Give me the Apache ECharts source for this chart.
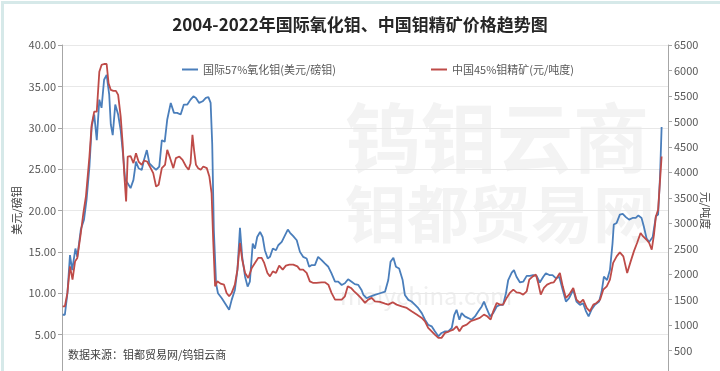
<!DOCTYPE html>
<html>
<head>
<meta charset="utf-8">
<script src="https://cdn.jsdelivr.net/npm/echarts@6/dist/echarts.min.js"></script>
<style>
html,body{margin:0;padding:0;background:#fff;}
#c{width:720px;height:371px;}
</style>
</head>
<body>
<div id="c"></div>
<script>
const titleText = '2004-2022年国际氧化钼、中国钼精矿价格趋势图';
const seriesNames = ['国际57%氧化钼(美元/磅钼)', '中国45%钼精矿(元/吨度)'];
const sourceText = '数据来源：钼都贸易网/钨钼云商';
const leftAxisName = '美元/磅钼';
const rightAxisName = '元/吨度';

// International 57% MoO3, USD/lb (time in decimal years)
const oxideYears = [
2004.02,2004.09,2004.17,2004.25,2004.32,2004.42,2004.48,2004.59,2004.69,2004.77,2004.86,2004.93,
2005.01,2005.09,2005.17,2005.24,2005.32,2005.40,2005.48,2005.53,2005.59,2005.67,2005.76,2005.84,2005.92,2005.98,
2006.06,2006.15,2006.24,2006.32,2006.40,2006.50,2006.57,2006.66,2006.74,2006.84,2006.95,
2007.05,2007.13,2007.22,2007.30,2007.41,2007.51,2007.61,2007.72,2007.82,2007.93,
2008.03,2008.12,2008.20,2008.30,2008.41,2008.51,2008.59,2008.66,2008.71,2008.76,2008.83,2008.89,
2009.01,2009.11,2009.24,2009.32,2009.42,2009.50,2009.58,2009.65,2009.74,2009.82,2009.89,2009.98,
2010.05,2010.12,2010.21,2010.29,2010.36,2010.45,2010.52,2010.61,2010.71,2010.78,2010.89,2010.99,
2011.08,2011.15,2011.25,2011.36,2011.46,2011.56,2011.67,2011.75,2011.83,2011.93,
2012.03,2012.14,2012.24,2012.35,2012.45,2012.56,2012.66,2012.77,2012.87,2012.97,
2013.08,2013.18,2013.29,2013.39,2013.45,2013.55,2013.66,2013.81,2013.97,
2014.13,2014.23,2014.30,2014.39,2014.47,2014.57,2014.68,2014.75,2014.86,2014.96,
2015.07,2015.17,2015.28,2015.38,2015.48,2015.59,2015.69,2015.80,2015.90,
2016.01,2016.11,2016.22,2016.30,2016.37,2016.46,2016.53,2016.63,2016.74,2016.84,2016.95,
2017.05,2017.16,2017.23,2017.31,2017.42,2017.52,2017.63,2017.73,2017.83,2017.92,2017.99,
2018.10,2018.17,2018.25,2018.36,2018.46,2018.57,2018.67,2018.77,2018.88,2018.98,
2019.09,2019.17,2019.28,2019.38,2019.49,2019.59,2019.70,2019.80,2019.90,
2020.03,2020.13,2020.24,2020.34,2020.43,2020.51,2020.60,2020.71,2020.84,2020.92,2020.99,
2021.09,2021.18,2021.26,2021.30,2021.39,2021.49,2021.58,2021.68,2021.78,2021.89,2021.99,
2022.07,2022.17,2022.24,2022.33,2022.41,2022.52,2022.62,2022.69,2022.75,2022.80
];
const oxideValues = [
7.4,7.4,10.0,14.6,12.8,15.4,14.4,17.7,18.9,21.3,25.3,30.1,
31.6,28.5,33.4,32.4,35.8,36.4,34.0,30.4,29.1,32.8,31.6,29.7,26.5,23.7,
23.3,22.7,23.7,25.9,25.1,24.9,26.1,27.3,25.7,25.3,24.9,
25.3,28.5,28.3,31.0,33.0,31.8,31.8,31.6,32.8,32.8,
33.4,33.8,33.6,33.0,33.2,33.6,33.7,33.0,28.0,17.7,11.2,10.0,
9.4,8.8,8.0,9.2,10.4,12.8,17.9,14.4,12.0,10.8,11.4,16.0,
15.4,16.8,17.4,16.8,15.2,14.2,14.4,15.4,15.2,15.8,16.2,17.0,
17.7,17.3,16.9,16.4,15.0,14.4,14.2,13.2,13.4,13.4,
14.4,14.0,13.6,13.2,12.4,11.4,11.4,11.0,11.2,11.7,
11.4,11.1,11.0,10.4,9.8,9.4,9.6,9.8,10.0,
10.2,11.6,13.8,14.3,13.2,13.0,11.6,9.8,9.2,9.0,
8.6,8.2,7.6,6.8,6.2,6.0,5.4,4.8,5.2,
5.4,5.4,5.8,7.4,8.0,6.8,7.6,7.2,7.0,6.8,7.2,
7.8,8.4,9.0,8.2,7.2,7.6,8.4,8.6,8.6,10.0,11.6,
12.5,12.8,12.0,11.3,11.4,12.1,12.1,12.2,12.1,11.3,
12.0,12.4,12.2,12.2,11.8,12.0,10.4,9.0,9.4,
10.4,9.0,8.6,8.8,7.8,7.2,8.0,8.6,9.0,10.2,12.0,
11.6,12.8,16.0,18.3,18.5,19.5,19.6,19.2,18.9,19.1,19.1,
19.4,19.1,18.1,16.6,16.2,16.8,19.3,19.5,24.1,30.1
];

// China 45% Mo concentrate, CNY per tonne-degree
const concYears = [
2004.02,2004.09,2004.17,2004.25,2004.33,2004.41,2004.48,2004.59,2004.67,2004.75,2004.86,2004.93,
2005.01,2005.09,2005.17,2005.24,2005.32,2005.40,2005.46,2005.53,2005.61,2005.69,2005.76,2005.84,2005.90,2005.95,
2006.01,2006.06,2006.15,2006.24,2006.32,2006.40,2006.50,2006.57,2006.67,2006.78,2006.86,2006.95,
2007.03,2007.13,2007.23,2007.30,2007.39,2007.49,2007.57,2007.68,2007.78,2007.89,2007.97,
2008.03,2008.09,2008.14,2008.20,2008.27,2008.35,2008.43,2008.54,2008.62,2008.69,2008.74,2008.80,2008.87,2008.97,
2009.08,2009.16,2009.24,2009.32,2009.42,2009.50,2009.58,2009.65,2009.74,2009.84,2009.95,
2010.05,2010.15,2010.26,2010.34,2010.44,2010.52,2010.61,2010.71,2010.81,2010.92,
2011.02,2011.13,2011.25,2011.38,2011.46,2011.56,2011.67,2011.77,2011.88,2011.98,
2012.14,2012.24,2012.35,2012.45,2012.56,2012.66,2012.77,2012.87,2012.96,
2013.06,2013.16,2013.27,2013.37,2013.50,2013.60,2013.71,2013.81,2013.97,
2014.13,2014.23,2014.37,2014.49,2014.65,2014.81,2014.96,
2015.12,2015.28,2015.38,2015.48,2015.59,2015.69,2015.80,2015.90,
2016.01,2016.14,2016.27,2016.37,2016.46,2016.56,2016.69,2016.81,2016.95,
2017.10,2017.23,2017.33,2017.44,2017.52,2017.63,2017.73,2017.83,2017.94,
2018.04,2018.15,2018.25,2018.36,2018.46,2018.57,2018.65,2018.76,2018.86,2018.93,
2019.01,2019.11,2019.21,2019.32,2019.42,2019.51,2019.61,2019.70,2019.80,2019.90,
2020.03,2020.13,2020.24,2020.34,2020.45,2020.55,2020.66,2020.76,2020.87,2020.97,
2021.08,2021.18,2021.28,2021.39,2021.49,2021.60,2021.72,2021.83,2021.93,
2022.03,2022.14,2022.22,2022.33,2022.41,2022.49,2022.56,2022.62,2022.69,2022.75,2022.80
];
const concValues = [
1369,1369,1631,2153,1892,2251,2318,2808,3200,3525,4310,4931,
5192,5192,5976,6108,6127,6127,5749,5618,5600,5600,5520,5094,4573,3984,
3427,4310,4320,4180,4376,4212,4147,4231,4212,4082,3984,3722,
3755,4082,4147,4441,4278,4082,4278,4310,4245,4114,4049,
4180,4735,4441,4147,4082,4049,4114,4082,3918,3592,2676,1761,1859,1814,
1794,1631,1565,1631,1794,2088,2612,2284,2024,1925,2122,
2220,2318,2318,2220,2024,1957,2055,2024,2167,2088,
2167,2186,2186,2153,2088,2088,2024,1859,1827,1827,
1839,1839,1794,1631,1500,1500,1500,1565,1761,
1729,1663,1598,1533,1435,1500,1533,1467,1455,
1422,1402,1447,1402,1369,1337,1271,
1206,1141,1075,945,878,814,749,749,
847,878,912,976,878,976,1010,1075,1108,
1141,1206,1173,1108,1271,1435,1402,1402,1533,
1631,1696,1643,1631,1598,1663,1892,1957,1990,1827,
1598,1729,1794,1827,1839,1925,2024,1761,1533,1598,
1729,1500,1435,1500,1337,1271,1402,1435,1500,1696,
1761,1892,2220,2349,2427,2349,2024,2251,2447,
2612,2808,2741,2676,2612,2480,2775,3133,3265,3265,4310
];

const leftTicks = {min: 0, max: 40, interval: 5};
const rightTicks = {min: 0, max: 6500, interval: 500};

const chart = echarts.init(document.getElementById('c'), null, {renderer: 'canvas'});
const pair = (xs, ys) => xs.map((x, i) => [x, ys[i]]);
const lblColor = '#595959';
const fontFam = '"Noto Sans CJK SC", "Noto Sans", sans-serif';

chart.setOption({
  backgroundColor: '#ffffff',
  animation: false,
  title: {
    text: titleText, left: 'center', top: 11,
    textStyle: {fontSize: 17, fontWeight: 'bold', color: '#262626', fontFamily: fontFam}
  },
  legend: [
    {data: [seriesNames[0]], left: 177, top: 59, itemWidth: 16, itemHeight: 2, itemGap: 4,
     icon: 'rect', textStyle: {fontSize: 11, color: lblColor, fontFamily: fontFam}},
    {data: [seriesNames[1]], left: 426, top: 59, itemWidth: 16, itemHeight: 2,
     icon: 'rect', textStyle: {fontSize: 11, color: lblColor, fontFamily: fontFam}}
  ],
  grid: {left: 62, right: 52, top: 45, height: 331, containLabel: false, outerBoundsMode: 'none'},
  xAxis: {
    type: 'value', min: 2004, max: 2023, show: false
  },
  yAxis: [
    {
      type: 'value', position: 'left', min: leftTicks.min, max: leftTicks.max, interval: leftTicks.interval,
      name: leftAxisName, nameLocation: 'middle', nameGap: 40, nameRotate: 90, nameMoveOverlap: false,
      nameTextStyle: {fontSize: 11, color: '#404040', fontFamily: fontFam},
      axisLine: {show: true, lineStyle: {color: '#a6a6a6'}},
      axisTick: {show: true, length: 4, lineStyle: {color: '#a6a6a6'}},
      axisLabel: {formatter: v => v.toFixed(2), fontSize: 11, color: lblColor, margin: 6, fontFamily: fontFam, showMinLabel: false},
      splitLine: {show: true, lineStyle: {color: '#e8e8e8', width: 1}}
    },
    {
      type: 'value', position: 'right', min: rightTicks.min, max: rightTicks.max, interval: rightTicks.interval,
      name: rightAxisName, nameLocation: 'middle', nameGap: 32, nameRotate: -90, nameMoveOverlap: false,
      nameTextStyle: {fontSize: 11, color: '#404040', fontFamily: fontFam},
      axisLine: {show: true, lineStyle: {color: '#a6a6a6'}},
      axisTick: {show: true, length: 4, lineStyle: {color: '#a6a6a6'}},
      axisLabel: {formatter: v => String(v), fontSize: 11, color: lblColor, margin: 6, fontFamily: fontFam, showMinLabel: false},
      splitLine: {show: false}
    }
  ],
  graphic: [
    {type: 'rect', left: 0, top: 0, shape: {width: 719, height: 370}, z: -10, silent: true,
     style: {fill: 'none', stroke: '#d6e9e9', lineWidth: 3}},
    {type: 'text', left: 345, top: 100, z: -5, silent: true,
     style: {text: '钨钼云商', fontSize: 76, fontWeight: 'bold', fill: '#f3f3f3', fontFamily: fontFam}},
    {type: 'text', left: 345, top: 183, z: -5, silent: true,
     style: {text: '钼都贸易网', fontSize: 62, fontWeight: 'bold', fill: '#f3f3f3', fontFamily: fontFam}},
    {type: 'text', left: 340, top: 284, z: -5, silent: true,
     style: {text: 'molychina.com', fontSize: 24, fill: '#efefef', fontFamily: fontFam}},
    {type: 'text', left: 68, top: 349, silent: true,
     style: {text: sourceText, fontSize: 11, fill: '#404040', fontFamily: fontFam}}
  ],
  series: [
    {name: seriesNames[0], type: 'line', yAxisIndex: 0, data: pair(oxideYears, oxideValues),
     showSymbol: false, symbol: 'none', lineStyle: {width: 1.8, color: '#4a7ebb'}, itemStyle: {color: '#4a7ebb'}},
    {name: seriesNames[1], type: 'line', yAxisIndex: 1, data: pair(concYears, concValues),
     showSymbol: false, symbol: 'none', lineStyle: {width: 1.8, color: '#be4b48'}, itemStyle: {color: '#be4b48'}}
  ]
});
</script>
</body>
</html>
